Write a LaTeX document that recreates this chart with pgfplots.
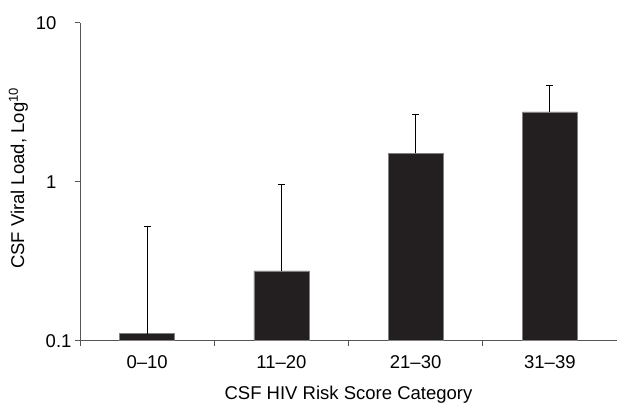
\documentclass[border=0pt]{standalone}
\usepackage{pgfplots}
\pgfplotsset{compat=1.18}
\usepackage{fontspec}
\setmainfont{Liberation Sans}
\definecolor{barfill}{HTML}{231F20}
\definecolor{axgray}{HTML}{555555}
\begin{document}
\begin{tikzpicture}[x=1pt,y=1pt]
\path[use as bounding box] (0,0) rectangle (617,404);
\begin{axis}[
  at={(80pt,63.3pt)}, anchor=south west,
  scale only axis, width=537pt, height=317.7pt,
  tick label style={font=\fontsize{18.5}{22}\selectfont},
  label style={font=\fontsize{18.5}{22}\selectfont},
  xmin=-0.5, xmax=3.5,
  ymode=log, ymin=0.1, ymax=10, log origin y=infty,
  ytick={0.1,1,10},
  yticklabels={0.1,1\hspace*{15pt},10\hspace*{15pt}},
  yminorticks=false,
  axis lines*=left,
  axis line style={axgray, line width=1pt},
  tick style={axgray, line width=1pt},
  tick align=outside,
  major tick length=5pt,
  xtick={-0.5,0.5,1.5,2.5},
  xticklabels={},
  extra x ticks={0,1,2,3},
  extra x tick labels={0–10,11–20,21–30,31–39},
  extra x tick style={major tick length=0pt, tick style={draw=none},
    xticklabel style={yshift=-11pt}},
  xlabel={CSF HIV Risk Score Category},
  ylabel={CSF Viral Load, Log\textsuperscript{10}},
  xlabel style={at={(axis description cs:0.5,0)}, anchor=base, yshift=-59pt},
  ylabel style={at={(axis description cs:-0.1145,0.511)}, anchor=center},
  ybar, bar width=55pt,
]
\addplot[fill=barfill, draw=gray, line width=0.5pt,
  error bars/.cd, y dir=plus, y explicit,
  error mark=|,
  error bar style={black, line width=1pt},
  error mark options={black, mark size=3.5pt, line width=1.2pt}]
  coordinates {
    (0,0.111) +- (0,0.413)
    (1,0.275) +- (0,0.682)
    (2,1.51)  +- (0,1.14)
    (3,2.76)  +- (0,1.26)
  };
\end{axis}
\end{tikzpicture}
\end{document}
